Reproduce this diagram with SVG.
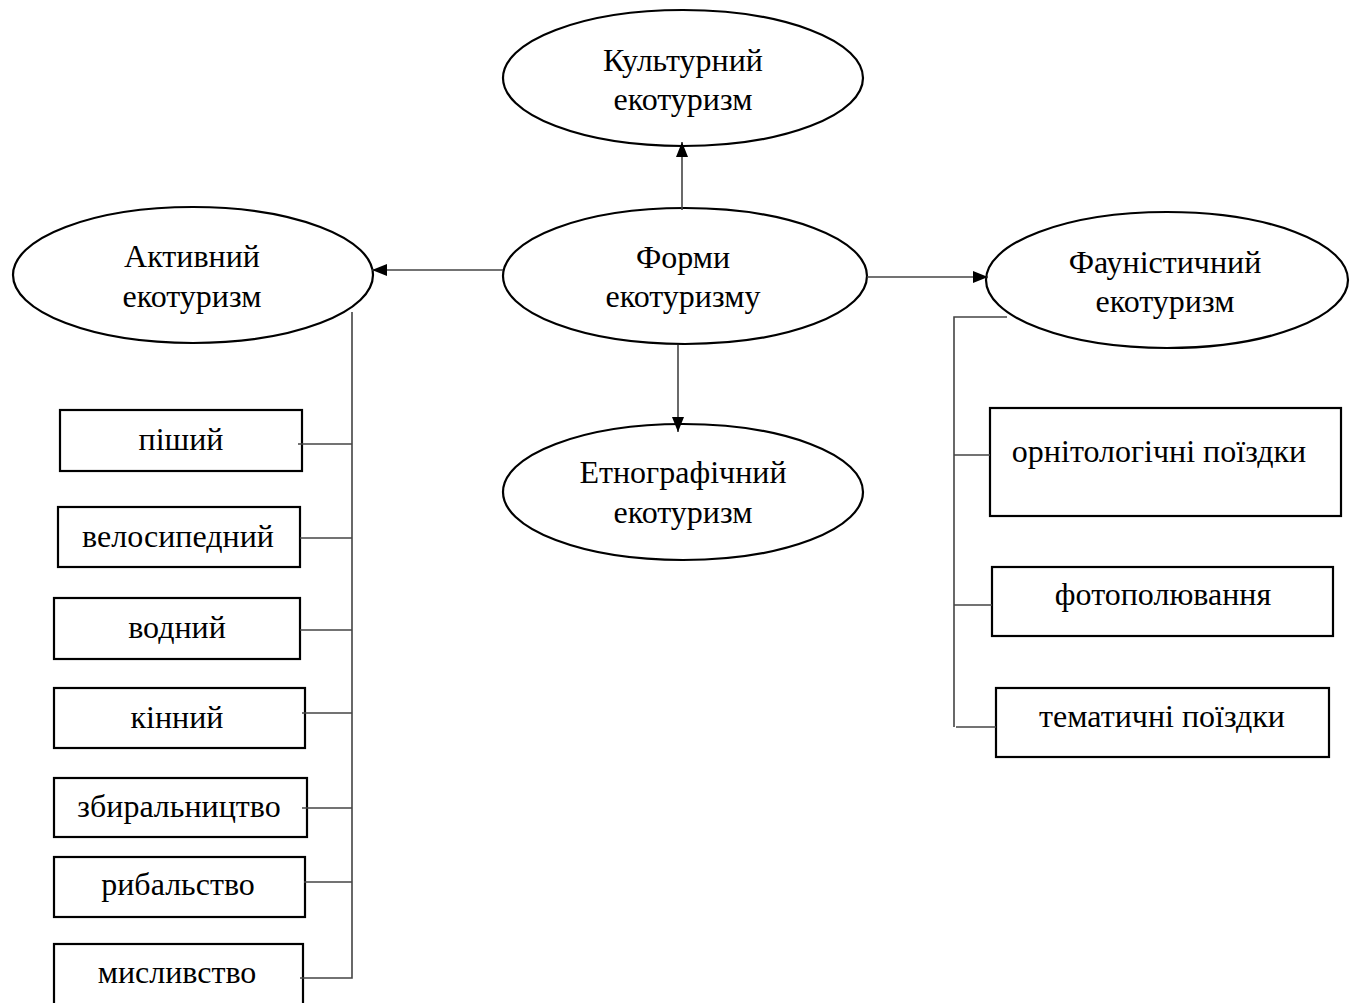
<svg xmlns="http://www.w3.org/2000/svg" width="1356" height="1003" viewBox="0 0 1356 1003">
<style>
.el{fill:#fff;stroke:#000;stroke-width:2.2}
.bx{fill:#fff;stroke:#000;stroke-width:2.2}
.t{font-family:"Liberation Serif","Times New Roman",serif;font-size:32px;fill:#000;text-anchor:middle}
.c{fill:none;stroke:#444;stroke-width:1.6}
</style>
<defs>
<marker id="ah" viewBox="0 0 15 12" refX="15" refY="6" markerWidth="15" markerHeight="12" markerUnits="userSpaceOnUse" orient="auto">
<path d="M0,0 L15,6 L0,12 Z" fill="#000"/>
</marker>
</defs>
<rect width="1356" height="1003" fill="#fff"/>
<g id="n-culture"><ellipse class="el" cx="683" cy="78" rx="180" ry="68"/><text class="t" x="683" y="71">Культурний</text><text class="t" x="683" y="110">екотуризм</text></g>
<g id="n-forms"><ellipse class="el" cx="685" cy="276" rx="182" ry="68"/><text class="t" x="683" y="268">Форми</text><text class="t" x="683" y="307">екотуризму</text></g>
<g id="n-active"><ellipse class="el" cx="193" cy="275" rx="180" ry="68"/><text class="t" x="192" y="267">Активний</text><text class="t" x="192" y="307">екотуризм</text></g>
<g id="n-fauna"><ellipse class="el" cx="1167" cy="280" rx="181" ry="68"/><text class="t" x="1165" y="273">Фауністичний</text><text class="t" x="1165" y="312">екотуризм</text></g>
<g id="n-ethno"><ellipse class="el" cx="683" cy="492" rx="180" ry="68"/><text class="t" x="683" y="483">Етнографічний</text><text class="t" x="683" y="523">екотуризм</text></g>
<g id="b-pishyi"><rect class="bx" x="60" y="410" width="242" height="61"/><text class="t" x="181" y="450">піший</text></g>
<g id="b-velo"><rect class="bx" x="58" y="507" width="242" height="60"/><text class="t" x="178" y="547">велосипедний</text></g>
<g id="b-vodnyi"><rect class="bx" x="54" y="598" width="246" height="61"/><text class="t" x="177" y="638">водний</text></g>
<g id="b-kinnyi"><rect class="bx" x="54" y="688" width="251" height="60"/><text class="t" x="177" y="728">кінний</text></g>
<g id="b-zbyr"><rect class="bx" x="54" y="778" width="253" height="59"/><text class="t" x="179" y="817">збиральництво</text></g>
<g id="b-ryb"><rect class="bx" x="54" y="857" width="251" height="60"/><text class="t" x="178" y="895">рибальство</text></g>
<g id="b-mysl"><rect class="bx" x="54" y="944" width="249" height="62"/><text class="t" x="177" y="983">мисливство</text></g>
<g id="b-orn"><rect class="bx" x="990" y="408" width="351" height="108"/><text class="t" x="1159" y="462">орнітологічні поїздки</text></g>
<g id="b-foto"><rect class="bx" x="992" y="567" width="341" height="69"/><text class="t" x="1163" y="605">фотополювання</text></g>
<g id="b-tem"><rect class="bx" x="996" y="688" width="333" height="69"/><text class="t" x="1162" y="727">тематичні поїздки</text></g>
<g id="connectors">
<line class="c" x1="682" y1="210" x2="682" y2="142" marker-end="url(#ah)"/>
<line class="c" x1="503" y1="270" x2="372" y2="270" marker-end="url(#ah)"/>
<line class="c" x1="867" y1="277" x2="988" y2="277" marker-end="url(#ah)"/>
<line class="c" x1="678" y1="345" x2="678" y2="432" marker-end="url(#ah)"/>
<polyline class="c" points="352,312 352,978 300,978"/>
<line class="c" x1="298" y1="444" x2="352" y2="444"/>
<line class="c" x1="300" y1="538" x2="352" y2="538"/>
<line class="c" x1="300" y1="630" x2="352" y2="630"/>
<line class="c" x1="302" y1="713" x2="352" y2="713"/>
<line class="c" x1="302" y1="808" x2="352" y2="808"/>
<line class="c" x1="304" y1="882" x2="352" y2="882"/>
<polyline class="c" points="1007,317 954,317 954,727"/>
<line class="c" x1="954" y1="455" x2="990" y2="455"/>
<line class="c" x1="954" y1="605" x2="992" y2="605"/>
<line class="c" x1="956" y1="727" x2="996" y2="727"/>
</g>
</svg>
